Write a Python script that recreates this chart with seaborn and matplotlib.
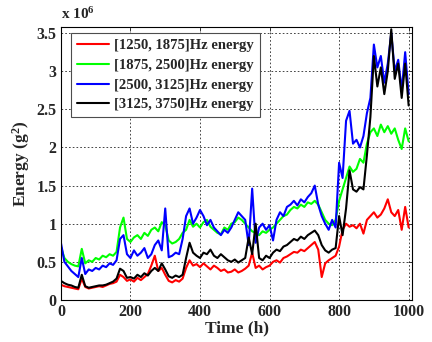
import numpy as np
import pandas as pd
import seaborn as sns
from matplotlib import pyplot as plt
from matplotlib.ticker import FuncFormatter

# time axis (h), sampled every 10 h
time_h = list(range(0, 1001, 10))

# energy values, in units of 1e6 g^2
red_e6 = [0.20, 0.18, 0.17, 0.16, 0.15, 0.14, 0.28, 0.17, 0.15, 0.16,
          0.17, 0.18, 0.17, 0.19, 0.21, 0.22, 0.24, 0.33, 0.30, 0.25,
          0.27, 0.24, 0.29, 0.26, 0.30, 0.34, 0.45, 0.58, 0.38, 0.42,
          0.33, 0.25, 0.23, 0.26, 0.24, 0.28, 0.42, 0.52, 0.45, 0.47,
          0.43, 0.48, 0.44, 0.40, 0.45, 0.42, 0.38, 0.40, 0.36, 0.37,
          0.40, 0.36, 0.38, 0.41, 0.45, 0.62, 0.42, 0.45, 0.40, 0.43,
          0.45, 0.50, 0.52, 0.49, 0.55, 0.57, 0.60, 0.63, 0.62, 0.66,
          0.64, 0.68, 0.72, 0.76, 0.66, 0.30, 0.48, 0.52, 0.55, 0.58,
          0.70, 0.92, 1.00, 0.96, 0.98, 0.94, 1.00, 0.87, 1.05, 1.10,
          1.15, 1.08, 1.12, 1.20, 1.32, 1.15, 1.10, 1.18, 0.92, 1.22,
          0.95]
green_e6 = [0.70, 0.55, 0.50, 0.47, 0.45, 0.44, 0.67, 0.48, 0.52, 0.50,
            0.55, 0.53, 0.58, 0.56, 0.60, 0.58, 0.63, 0.95, 1.08, 0.80,
            0.76, 0.82, 0.85, 0.80, 0.88, 0.84, 0.92, 0.95, 0.90, 1.02,
            0.98, 0.78, 0.74, 0.76, 0.80, 0.88, 0.92, 1.05, 0.96, 1.00,
            0.95, 1.02, 1.05, 0.96, 0.92, 0.88, 0.86, 0.95, 0.92, 1.00,
            1.02, 1.08, 1.05, 1.00, 0.95, 0.90, 0.88, 0.85, 0.90, 0.88,
            0.92, 0.95, 1.00, 1.05, 1.10, 1.12, 1.18, 1.22, 1.20, 1.25,
            1.22, 1.28, 1.26, 1.30, 1.25, 1.15, 1.05, 1.00, 0.98, 1.05,
            1.30, 1.45, 1.60, 1.75, 1.68, 1.72, 1.85, 1.80, 2.05, 2.20,
            2.25, 2.15, 2.30, 2.20, 2.28, 2.18, 2.25, 2.10, 1.98, 2.25,
            2.08]
blue_e6 = [0.75, 0.50, 0.44, 0.38, 0.34, 0.30, 0.55, 0.34, 0.40, 0.38,
           0.42, 0.40, 0.45, 0.43, 0.48, 0.46, 0.52, 0.80, 0.85, 0.60,
           0.55, 0.65, 0.58, 0.62, 0.68, 0.55, 0.60, 0.72, 0.78, 0.65,
           1.20, 0.56, 0.58, 0.62, 0.60, 0.80, 1.10, 1.20, 1.00, 1.08,
           1.18, 1.10, 0.98, 1.05, 0.95, 0.90, 0.85, 0.92, 0.88, 0.95,
           1.05, 1.15, 1.10, 1.05, 0.72, 1.46, 0.75, 0.95, 1.00, 0.92,
           0.98, 0.78, 1.05, 1.15, 1.10, 1.22, 1.25, 1.30, 1.24, 1.32,
           1.28, 1.35, 1.40, 1.50, 1.25, 1.10, 1.00, 0.92, 1.05, 0.95,
           1.80, 1.60, 2.35, 2.48, 2.05, 2.10, 2.00, 2.15, 2.45, 2.65,
           3.35, 3.05, 3.20, 2.85, 3.10, 3.50, 3.00, 3.15, 2.75, 3.25,
           2.70]
black_e6 = [0.25, 0.22, 0.20, 0.19, 0.17, 0.16, 0.33, 0.18, 0.16, 0.17,
            0.18, 0.19, 0.19, 0.20, 0.22, 0.24, 0.28, 0.41, 0.38, 0.29,
            0.30, 0.28, 0.33, 0.30, 0.35, 0.32, 0.38, 0.42, 0.38, 0.48,
            0.40, 0.31, 0.29, 0.32, 0.30, 0.33, 0.55, 0.75, 0.62, 0.58,
            0.55, 0.62, 0.60, 0.66, 0.58, 0.55, 0.60, 0.56, 0.52, 0.50,
            0.53, 0.49, 0.52, 0.55, 0.82, 0.60, 1.00, 0.55, 0.52, 0.58,
            0.55, 0.62, 0.66, 0.64, 0.70, 0.72, 0.76, 0.80, 0.78, 0.83,
            0.80, 0.85, 0.88, 0.91, 0.85, 0.72, 0.65, 0.62, 0.66, 0.68,
            1.10, 0.85, 1.20, 1.70, 1.45, 1.42, 1.48, 1.45, 1.90, 2.40,
            3.20, 2.80, 3.05, 2.70, 3.00, 3.55, 2.90, 3.10, 2.65, 3.10,
            2.55]

bands = ["[1250, 1875]Hz energy", "[1875, 2500]Hz energy",
         "[2500, 3125]Hz energy", "[3125, 3750]Hz energy"]
colors = ["#ff0000", "#00ff00", "#0000ff", "#000000"]

df = pd.concat([pd.DataFrame({"time": time_h, "energy": v, "band": b})
                for v, b in zip([red_e6, green_e6, blue_e6, black_e6], bands)])

sns.set_style("white")
plt.rcParams['font.family'] = ['Liberation Serif', 'DejaVu Serif']
plt.rcParams['font.weight'] = 'bold'
plt.rcParams['mathtext.fontset'] = 'custom'
plt.rcParams['mathtext.rm'] = 'Liberation Serif:bold'
plt.rcParams['mathtext.it'] = 'Liberation Serif:bold'
plt.rcParams['mathtext.bf'] = 'Liberation Serif:bold'

fig = plt.figure(figsize=(4.32, 3.42), dpi=100)
ax = fig.add_axes([0.141, 0.123, 0.813, 0.798])

sns.lineplot(data=df, x="time", y="energy", hue="band", palette=colors,
             linewidth=1.5, ax=ax, legend=True, estimator=None)

ax.set_xlim(0, 1010)
ax.set_ylim(0, 3.58)
ax.set_xticks(range(0, 1001, 200))
ax.set_yticks(np.arange(0, 3.51, 0.5))
ax.yaxis.set_major_formatter(FuncFormatter(lambda v, p: "%g" % v))
ax.tick_params(direction="in", length=3, labelsize=11.5, top=True, right=True,
               width=0.6, pad=3)
for lab in ax.get_xticklabels() + ax.get_yticklabels():
    lab.set_fontweight("bold")
ax.grid(True, color="0.15", linestyle=(0, (2, 2.5)), linewidth=0.6)
for s in ax.spines.values():
    s.set_color("black")
    s.set_linewidth(0.8)

ax.set_xlabel("Time (h)", fontsize=12.5, fontweight="bold", labelpad=0)
ax.set_ylabel("Energy (g$^2$)", fontsize=12.5, fontweight="bold", labelpad=3)
fig.text(0.141, 0.935, "x 10$^6$", fontsize=11, fontweight="bold",
         ha="left", va="bottom")

h, l = ax.get_legend_handles_labels()
leg = ax.legend(h, l, loc="upper left", bbox_to_anchor=(0.03, 0.978),
                fontsize=10.5, frameon=True, fancybox=False, framealpha=1,
                edgecolor="0.3", handlelength=2.2, handletextpad=0.35,
                borderpad=0.4, labelspacing=0.45, borderaxespad=0)
leg.get_frame().set_linewidth(0.8)
for t in leg.get_texts():
    t.set_fontweight("bold")

fig.savefig("out.png", dpi=100)
